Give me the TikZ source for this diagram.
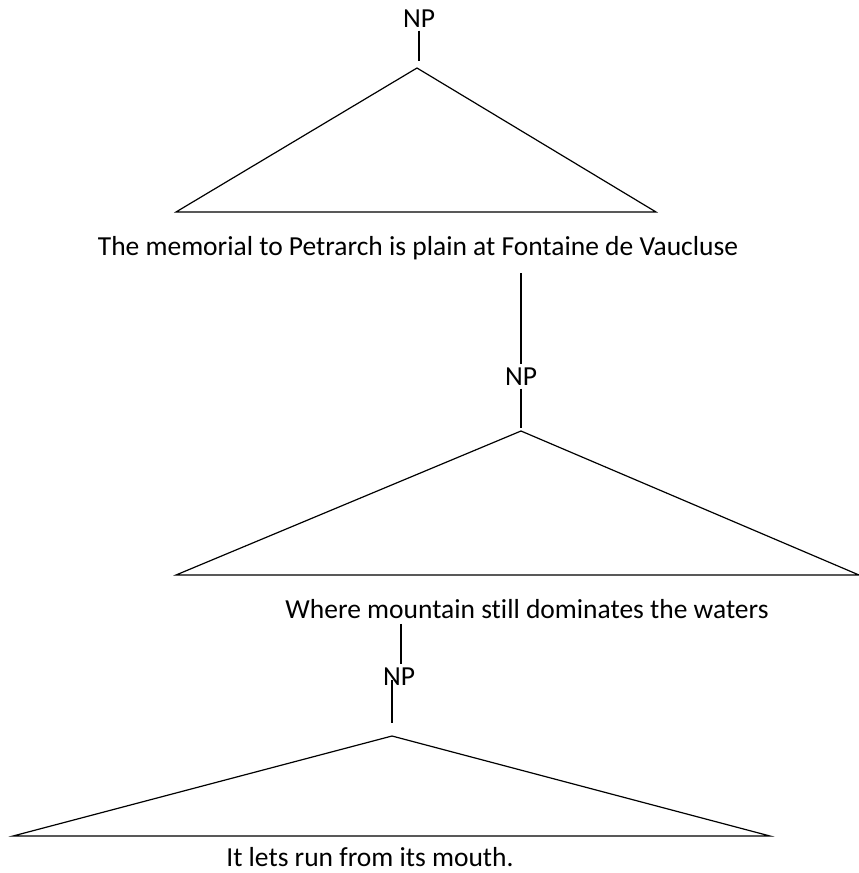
\documentclass[tikz,border=0pt]{standalone}
\usepackage{fontspec}
\setmainfont[Ligatures={NoCommon}]{Carlito}
\usepackage{tikz}

\begin{document}
\begin{tikzpicture}[x=1pt,y=-1pt,line width=1.2pt,
    every node/.style={font=\fontsize{27.5}{32}\selectfont,inner sep=3pt},
    tri/.style={line join=miter}]
        \useasboundingbox (0,0) rectangle (859,873);
        % first tree
        \node[anchor=base] (NPa) at (419,27) {NP};
        \coordinate (ta) at (419,61);
        \coordinate (Ta) at (417,68);
        \coordinate (La) at (176,212);
        \coordinate (Ra) at (656,212);
        \node[anchor=base] (Sa) at (418,255) {The memorial to Petrarch is plain at Fontaine de Vaucluse};
        % second tree
        \node[anchor=base] (NPb) at (521,385) {NP};
        \coordinate (tb) at (521,428);
        \coordinate (Tb) at (521,431);
        \coordinate (Lb) at (176,575);
        \coordinate (Rb) at (859,575);
        \node[anchor=base] (Sb) at (527,618) {Where mountain still dominates the waters};
        % third tree
        \node[anchor=base] (NPc) at (399,685) {NP};
        \coordinate (kc) at (392,680);
        \coordinate (tc) at (392,723);
        \coordinate (Tc) at (392,736);
        \coordinate (Lc) at (13,836);
        \coordinate (Rc) at (770,836);
        \node[anchor=base] (Sc) at (370,866) {It lets run from its mouth.};

            \draw[tri] (Ta) -- (La) -- (Ra) -- cycle;
            \draw[tri] (Tb) -- (Lb) -- (Rb) -- cycle;
            \draw[tri] (Tc) -- (Lc) -- (Rc) -- cycle;
            \draw (NPa.south) -- (ta);
            \draw[shorten <=10pt] (Sa.south -| NPb) -- (NPb);
            \draw (NPb) -- (tb);
            \draw[shorten <=2pt] (Sb.south -| NPc.center) ++(2,0) coordinate (sc) -- (NPc.north -| sc);
            \draw (kc) -- (tc);

    \end{tikzpicture}
\end{document}
